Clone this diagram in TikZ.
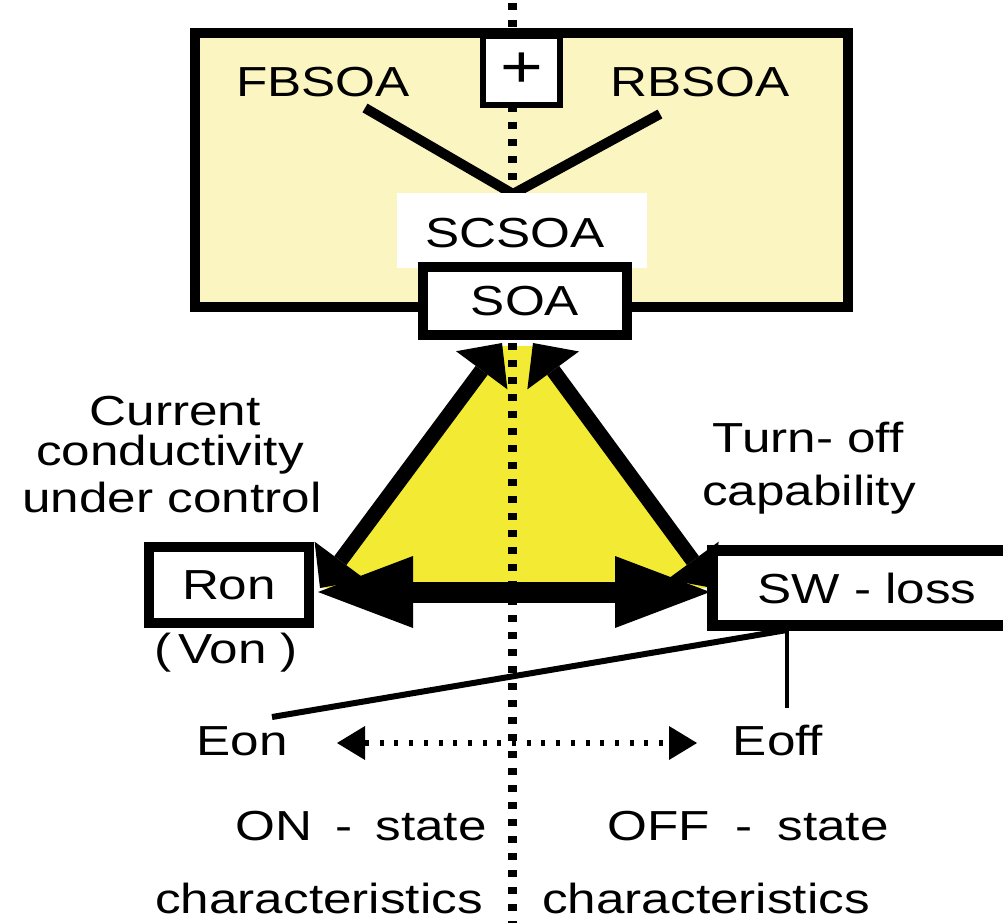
\documentclass[tikz,border=0pt]{standalone}
\usepackage{fontspec}
\setmainfont{Liberation Sans}[FakeStretch=1.22]
\usetikzlibrary{arrows.meta}
\definecolor{boxyellow}{HTML}{FBF5C1}
\definecolor{triyellow}{HTML}{F3EB33}
\begin{document}
\begin{tikzpicture}[x=1pt,y=-1pt,
  font=\fontsize{42}{50}\selectfont,
  txt/.style={anchor=base, inner sep=0pt},
  framebox/.style={draw, line width=10pt, fill=white, inner sep=0pt},
  vdots/.style={line width=9pt, dash pattern=on 7pt off 10pt},
  diagarrow/.style={line width=15pt,
    {Triangle[length=34pt,width=64pt,line width=0pt]}-{Triangle[length=34pt,width=64pt,line width=0pt]}},
  hugearrow/.style={line width=21pt,
    {Triangle[length=95pt,width=72pt,line width=0pt]}-{Triangle[length=95pt,width=72pt,line width=0pt]}},
  dotarrow/.style={line width=6pt, dash pattern=on 4pt off 10.7pt,
    {Triangle[length=28pt,width=34pt,line width=0pt]}-{Triangle[length=28pt,width=34pt,line width=0pt]}},
  thinline/.style={line width=6pt}
]
\useasboundingbox (0,0) rectangle (1003,923);
\fill[white] (0,0) rectangle (1003,923);

% big yellow box
\node[draw, line width=10pt, fill=boxyellow, minimum width=653pt, minimum height=274pt, inner sep=0pt] (outer) at (521.5,170) {};

% yellow triangle
\fill[triyellow] (500,346) -- (535,346) -- (713,588) -- (320,588) -- cycle;

% vertical dotted divider
\coordinate (vt) at (512,3);
\coordinate (vb) at (512,923);
\draw[vdots] (vt) -- (vb);

% plus box
\node[draw, line width=6pt, fill=white, minimum width=77pt, minimum height=69pt, inner sep=0pt,
  font=\fontsize{60}{60}\selectfont] (plus) at (521.5,70.5) {+};

% V lines
\node[txt] (fb) at (323,97) {FBSOA};
\node[txt] (rb) at (700,97) {RBSOA};
\coordinate (fbend) at (365,108);
\coordinate (apex) at (513,194);
\coordinate (rbend) at (660,114);
\draw[line width=10pt, line join=miter] (fbend) -- (apex) -- (rbend);

% SCSOA
\node[fill=white, minimum width=250pt, minimum height=75pt, inner sep=0pt] (scsoa) at (522,230.5) {};
\node[txt] (scsoatxt) at (515,247) {SCSOA};

% SOA
\node[framebox, minimum width=204pt, minimum height=68pt] (soa) at (525,301) {SOA};

% diagonal arrows
\coordinate (dlt) at (502,343);
\coordinate (dlb) at (320,588);
\coordinate (drt) at (533,343);
\coordinate (drb) at (713,588);
\draw[diagarrow] (dlt) -- (dlb);
\draw[diagarrow] (drt) -- (drb);

% horizontal arrow
\coordinate (hl) at (318,592);
\coordinate (hr) at (710,592);
\draw[hugearrow] (hl) -- (hr);

% thin lines to SW-loss
\coordinate (eonend) at (272,717);
\coordinate (swfoot) at (787,630);
\coordinate (swdown) at (787,708);
\draw[thinline] (eonend) -- (swfoot);
\draw[line width=4pt] (swfoot) -- (swdown);

% boxes
\node[framebox, minimum width=160pt, minimum height=76pt] (ron) at (229,585) {Ron};
\node[framebox, line width=11pt, minimum width=309pt, minimum height=75pt] (sw) at (867,588) {SW - loss};
\node[txt] (von) at (226,663) {(\,Von )};

% side labels
\node[txt] (cur1) at (175,425) {Current};
\node[txt] (cur2) at (170,465) {conductivity};
\node[txt] (cur3) at (172,512) {under control};
\node[txt] (turn1) at (808,452) {Turn- off};
\node[txt] (turn2) at (809,505) {capability};

% Eon / Eoff
\node[txt] (eon) at (242,755) {Eon};
\node[txt] (eoff) at (778,755) {Eoff};
\coordinate (dal) at (337,743);
\coordinate (dar) at (697,743);
\draw[dotarrow] (dal) -- (dar);

% state labels
\node[txt] (onst) at (361,840) {ON\hspace{0.55em}-\hspace{0.55em}state};
\node[txt] (offst) at (748,840) {OFF\hspace{0.6em}-\hspace{0.6em}state};
\node[txt] (onch) at (319,913) {characteristics};
\node[txt] (offch) at (706,913) {characteristics};
\end{tikzpicture}
\end{document}
